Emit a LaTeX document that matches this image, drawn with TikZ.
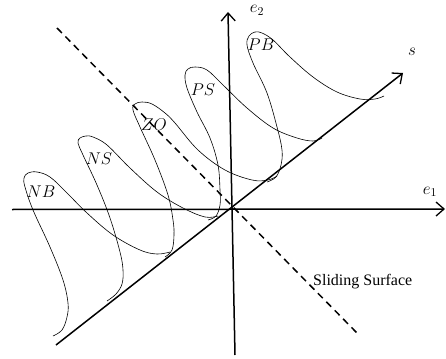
\RequirePackage{fix-cm}
\documentclass[tikz,border=0pt]{standalone}
\usepackage{fontspec}
\setmainfont{Liberation Serif}
\usetikzlibrary{arrows.meta}
\tikzset{
  axis/.style={line width=1.5pt, -{Straight Barb[length=8pt,width=14pt,line width=1.3pt]}},
  surf/.style={line width=1.5pt, dash pattern=on 7pt off 5pt},
  mf/.style={line width=0.6pt, smooth, tension=0.6},
  lab/.style={font=\fontsize{17}{20}\selectfont, inner sep=0pt},
  txt/.style={font=\fontsize{16}{19}\selectfont, inner sep=0pt, anchor=west}
}
\begin{document}
\begin{tikzpicture}[x=1pt,y=-1pt]
\useasboundingbox (0,0) rectangle (446,358);
% axes end points
\coordinate (e1a) at (12,209.5);
\coordinate (e1b) at (445,209);
\coordinate (e2a) at (235,355);
\coordinate (e2b) at (228,12);
\coordinate (sa) at (56,345);
\coordinate (sb) at (403,73);
\coordinate (da) at (57,28);
\coordinate (db) at (357,333);
\draw[axis] (e1a) -- (e1b);
\draw[axis] (e2a) -- (e2b);
\draw[axis] (sa) -- (sb);
\draw[surf] (da) -- (db);
% membership functions
\draw[mf] plot coordinates {(53,336) (62,330) (67,317) (68,303) (63,280) (50,247) (33,210) (25,187) (24,178) (28,173) (37,172) (50,177) (67,193) (87,213) (113,235) (140,250) (157,254) (170,252)};
\draw[mf] plot coordinates {(107,301) (116,294) (122,284) (123,270) (120,252) (110,218) (97,185) (83,155) (78,143) (80,138) (86,136) (93,137) (107,145) (130,168) (157,192) (183,208) (205,217) (218,216)};
\draw[mf] plot coordinates {(165,257) (172,250) (174,235) (173,220) (168,195) (155,160) (140,127) (133,110) (135,104) (142,102) (152,104) (165,113) (175,123) (198,150) (225,170) (252,180) (268,180) (277,176)};
\draw[mf] plot coordinates {(208,220) (216,216) (220,205) (220,190) (218,165) (210,138) (197,112) (187,88) (185,75) (188,69) (195,67) (207,70) (223,85) (247,108) (273,128) (297,138) (313,141) (322,138)};
\draw[mf] plot coordinates {(267,182) (276,177) (281,165) (282,150) (277,127) (267,93) (253,63) (247,45) (249,36) (255,32) (262,33) (273,40) (290,57) (313,77) (337,92) (360,99) (375,99) (384,96)};
% labels
\node[lab] (le2) at (257,10.5) {$e_2$};
\node[lab] (le1) at (430,192) {$e_1$};
\node[lab] (ls) at (412,52) {$s$};
\node[lab] (nb) at (41,192) {$NB$};
\node[lab] (ns) at (99,159) {$NS$};
\node[lab] (zo) at (154,125) {$ZO$};
\node[lab] (ps) at (203,90) {$PS$};
\node[lab] (pb) at (261,45) {$PB$};
\node[txt] (sl) at (313,282) {Sliding Surface};
\end{tikzpicture}
\end{document}
